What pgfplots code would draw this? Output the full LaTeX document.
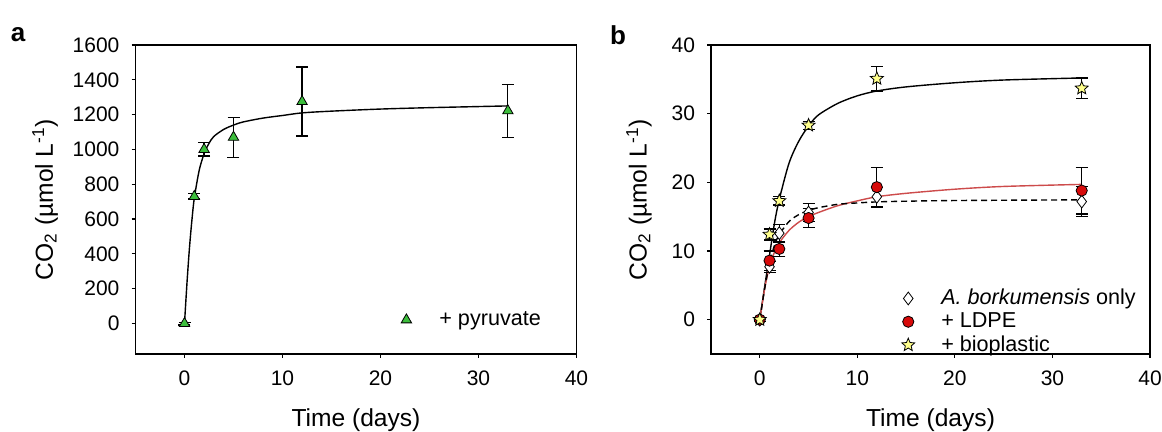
\documentclass[border=0pt]{standalone}
\usepackage{fontspec}
\setmainfont{Liberation Sans}
\usepackage{pgfplots}
\pgfplotsset{compat=1.18}

\definecolor{trigreen}{RGB}{60,190,60}
\definecolor{ldpered}{RGB}{215,10,10}
\definecolor{staryellow}{RGB}{255,255,140}
\definecolor{fitred}{RGB}{205,75,75}

% filled five-pointed star
\pgfdeclareplotmark{fstar}{%
  \pgfpathmoveto{\pgfpointpolar{90}{\pgfplotmarksize}}%
  \pgfpathlineto{\pgfpointpolar{126}{0.45\pgfplotmarksize}}%
  \pgfpathlineto{\pgfpointpolar{162}{\pgfplotmarksize}}%
  \pgfpathlineto{\pgfpointpolar{198}{0.45\pgfplotmarksize}}%
  \pgfpathlineto{\pgfpointpolar{234}{\pgfplotmarksize}}%
  \pgfpathlineto{\pgfpointpolar{270}{0.45\pgfplotmarksize}}%
  \pgfpathlineto{\pgfpointpolar{306}{\pgfplotmarksize}}%
  \pgfpathlineto{\pgfpointpolar{342}{0.45\pgfplotmarksize}}%
  \pgfpathlineto{\pgfpointpolar{18}{\pgfplotmarksize}}%
  \pgfpathlineto{\pgfpointpolar{54}{0.45\pgfplotmarksize}}%
  \pgfpathclose
  \pgfusepathqfillstroke}

\pgfplotsset{
  panel/.style={
    scale only axis, width=220.5pt, height=154.5pt,
    xmin=-5, xmax=40, xtick={0,10,...,40},
    axis line style={black, line width=0.7pt},
    tick align=outside, xtick pos=bottom, ytick pos=left,
    major tick length=2pt,
    tick style={black, line width=0.6pt},
    ticklabel style={font=\fontsize{10.5}{12}\selectfont},
    xticklabel style={yshift=-3pt},
    yticklabel style={xshift=-2.5pt},
    /pgf/number format/assume math mode=true,
    /pgf/number format/1000 sep={},
    label style={font=\fontsize{12.3}{14}\selectfont},
    xlabel={Time (days)},
    ylabel={CO\textsubscript{2} (µmol L\textsuperscript{-1})},
    x label style={at={(axis description cs:0.5,-0.215)}, anchor=center},
    legend style={draw=none, fill=none, font=\fontsize{10.8}{12}\selectfont,
      row sep=-1.5pt},
    legend cell align=left,
    legend image code/.code={
      \path[draw=none, fill=none] (0pt,-2pt) rectangle (14.5pt,2pt);
      \draw[##1] plot coordinates {(0pt,0pt)};
    },
  },
  ebars/.style={
    error bars/.cd, y dir=both, y explicit,
    error bar style={line width=0.6pt, black},
    error mark options={rotate=90, mark size=3pt, line width=0.6pt, black},
  },
}

\begin{document}
\begin{tikzpicture}
\path[use as bounding box] (0,0) rectangle (581pt,216pt);

% panel a
\begin{axis}[panel, at={(67.75pt,39pt)}, anchor=south west,
    ymin=-175, ymax=1600, ytick={0,200,...,1600},
    y label style={at={(axis description cs:-0.205,0.5)}, anchor=center},
    legend style={at={(axis description cs:0.588,0.165)}, anchor=north west},
  ]
  \addplot[black, line width=0.7pt, smooth, forget plot] coordinates {
    (0,0)(0.25,230)(0.5,430)(0.75,590)(1,720)(1.5,880)(2,975)(2.5,1035)
    (3,1075)(4,1115)(5,1140)(6,1158)(8,1180)(10,1195)(12,1210)(15,1220)
    (20,1232)(25,1240)(33,1250)
  };
  \addplot[only marks, mark=triangle*, mark size=3pt,
      mark options={fill=trigreen, draw=black, line width=0.4pt}, ebars]
    table[x=t, y=y, y error=e] {
      t  y    e
      0  0    8
      1  730  15
      2  1000 38
      5  1070 115
      12 1275 198
      33 1222 152
    };
  \addlegendentry{+ pyruvate}
\end{axis}

% panel b
\begin{axis}[panel, at={(355.5pt,39pt)}, anchor=south west, width=219.5pt,
    ymin=-5, ymax=40, ytick={0,10,...,40},
    y label style={at={(axis description cs:-0.164,0.5)}, anchor=center},
    legend style={at={(axis description cs:0.42,0.237)}, anchor=north west},
  ]
  \addplot[black, line width=0.7pt, smooth, forget plot] coordinates {
    (0,0)(0.5,4.8)(1,9.4)(1.5,14)(2,17.5)(3,22.8)(4,26)(5,28.2)(6,29.8)
    (8,31.5)(10,32.6)(12,33.3)(15,33.9)(20,34.5)(25,34.9)(33,35.2)
  };
  \addplot[fitred, line width=0.7pt, smooth, forget plot] coordinates {
    (0,0)(0.5,4.5)(1,7.8)(1.5,9.8)(2,11.2)(3,13)(4,14.2)(5,15)(6,15.6)
    (8,16.6)(10,17.3)(12,17.9)(15,18.4)(20,19)(25,19.4)(33,19.7)
  };
  \addplot[black, line width=0.7pt, dash pattern=on 3pt off 2pt, smooth, forget plot] coordinates {
    (0,0)(0.5,4.5)(1,8.2)(1.5,10.8)(2,12.4)(3,14.3)(4,15.3)(5,15.9)(6,16.3)
    (8,16.8)(10,17)(12,17.15)(15,17.25)(20,17.35)(33,17.45)
  };
  \addplot[only marks, mark=diamond*, mark size=3.2pt,
      mark options={fill=white, draw=black, line width=0.4pt}, ebars]
    table[x=t, y=y, y error=e] {
      t  y    e
      0  0    0.3
      1  7.7  0.8
      2  12.6 1.3
      5  15.6 1.3
      12 17.9 1.4
      33 17.2 2.2
    };
  \addlegendentry{\textit{A. borkumensis} only}
  \addplot[only marks, mark=*, mark size=2.8pt,
      mark options={fill=ldpered, draw=black, line width=0.4pt}, ebars]
    table[x=t, y=y, y error=e] {
      t  y    e
      0  0    0.3
      1  8.6  1.4
      2  10.3 1.1
      5  14.8 1.4
      12 19.3 2.9
      33 18.8 3.4
    };
  \addlegendentry{+ LDPE}
  \addplot[only marks, mark=fstar, mark size=3.4pt,
      mark options={fill=staryellow, draw=black, line width=0.4pt}, ebars]
    table[x=t, y=y, y error=e] {
      t  y    e
      0  0    0.3
      1  12.4 0.8
      2  17.3 0.6
      5  28.3 0.6
      12 35.1 1.8
      33 33.7 1.5
    };
  \addlegendentry{+ bioplastic}
\end{axis}

\node[font=\bfseries\fontsize{13}{15}\selectfont] at (9pt,198.5pt) {a};
\node[font=\bfseries\fontsize{13}{15}\selectfont] at (309pt,198.5pt) {b};
\end{tikzpicture}
\end{document}
